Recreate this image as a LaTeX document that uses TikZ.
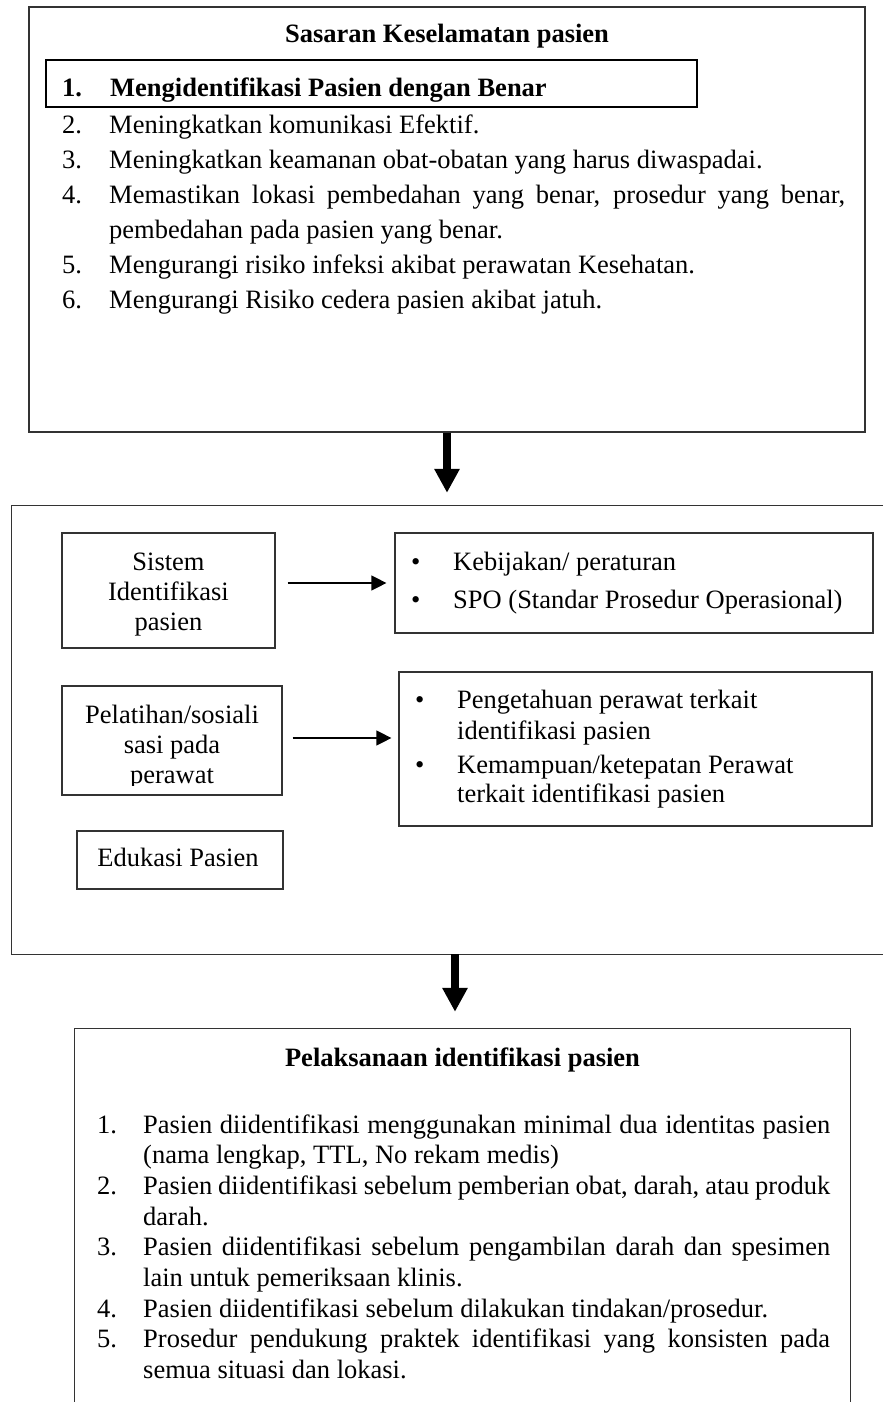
\documentclass[tikz,border=0pt]{standalone}
\usepackage{fontspec}
\setmainfont{Liberation Serif}
\usetikzlibrary{arrows.meta}
\definecolor{boxgray}{gray}{0.2}

\begin{document}
\begin{tikzpicture}[x=1pt, y=-1pt, inner sep=0pt,
  every node/.style={font=\fontsize{26.5}{30}\selectfont},
  boxframe/.style={draw=boxgray, line width=1.2pt},
  txt/.style={anchor=base west},
  mid/.style={anchor=base},
  bigarrow/.style={line width=8pt, -{Triangle[length=24pt, width=24pt]}},
  thinarrow/.style={line width=1.2pt, -{Triangle[length=15pt, width=15pt]}}]
  \useasboundingbox (0, 0) rectangle (883, 1402);

  % sasaran keselamatan
  \node[boxframe, minimum width=836pt, minimum height=425pt] (sasaran) at (447, 219.5) {};
  \node[draw, line width=2.3pt, minimum width=651pt, minimum height=47pt] (target) at (371.5, 83.5) {};
  \node[mid] (judul) at (447, 43) {\bfseries Sasaran Keselamatan pasien};
  \node[txt] (n1) at (62, 97) {\bfseries 1.};
  \node[txt] (s1) at (110, 97) {\bfseries Mengidentifikasi Pasien dengan Benar};
  \foreach \n/\y in {2/133, 3/168, 4/203, 5/273, 6/308}
    \node[txt] (n\n) at (62, \y) {\n.};
  \node[txt] (s2) at (109, 133) {Meningkatkan komunikasi Efektif.};
  \node[txt] (s3) at (109, 168) {Meningkatkan keamanan obat-obatan yang harus diwaspadai.};
  \node[txt] (s4) at (109, 203) {\hbox to 736pt{Memastikan lokasi pembedahan yang benar, prosedur yang benar,}};
  \node[txt] (s4b) at (109, 238) {pembedahan pada pasien yang benar.};
  \node[txt] (s5) at (109, 273) {Mengurangi risiko infeksi akibat perawatan Kesehatan.};
  \node[txt] (s6) at (109, 308) {Mengurangi Risiko cedera pasien akibat jatuh.};

  % upaya
  \node[minimum width=871pt, minimum height=448pt] (upaya) at (447.5, 730) {};
  \draw[boxgray, line width=1.2pt] (upaya.north east) -- (upaya.north west)
    -- (upaya.south west) -- (upaya.south east);
  \node[boxframe, minimum width=213pt, minimum height=115pt] (sistem) at (168.5, 590.5) {};
  \node[mid] at (168.5, 570) {Sistem};
  \node[mid] at (168.5, 600) {Identifikasi};
  \node[mid] at (168.5, 630) {pasien};
  \node[boxframe, minimum width=478pt, minimum height=100pt] (kebijakan) at (634, 583) {};
  \node[txt] at (411, 570) {•};
  \node[txt] at (453, 570) {Kebijakan/ peraturan};
  \node[txt] at (411, 608) {•};
  \node[txt] at (453, 608) {SPO (Standar Prosedur Operasional)};
  \node[boxframe, minimum width=220pt, minimum height=109pt] (pelatihan) at (172, 740.5) {};
  \begin{scope}
    \clip (62, 686) rectangle (282, 785);
    \node[mid] at (172, 723) {Pelatihan/sosiali};
    \node[mid] at (172, 753) {sasi pada};
    \node[mid] at (172, 783) {perawat};
  \end{scope}
  \node[boxframe, minimum width=473pt, minimum height=154pt] (pengetahuan) at (635.5, 749) {};
  \node[txt] at (415, 708) {•};
  \node[txt] at (457, 708) {Pengetahuan perawat terkait};
  \node[txt] at (457, 739) {identifikasi pasien};
  \node[txt] at (415, 773) {•};
  \node[txt] at (457, 773) {Kemampuan/ketepatan Perawat};
  \node[txt] at (457, 802) {terkait identifikasi pasien};
  \node[boxframe, minimum width=206pt, minimum height=58pt] (edukasi) at (180, 860) {};
  \node[mid] at (178, 866) {Edukasi Pasien};

  \draw[thinarrow, shorten <=12pt, shorten >=8pt] (sistem.east |- kebijakan.west) -- (kebijakan.west);
  \draw[thinarrow, shorten <=10pt, shorten >=7pt] ([yshift=2.5pt]pelatihan.east)
    -- ([yshift=2.5pt]pelatihan.east -| pengetahuan.west);

  % pelaksanaan
  \node[minimum width=775pt, minimum height=373pt] (pelaksanaan) at (462.5, 1215.5) {};
  \draw[boxgray, line width=1.2pt] (pelaksanaan.south west) -- (pelaksanaan.north west)
    -- (pelaksanaan.north east) -- (pelaksanaan.south east);
  \node[mid] (judul2) at (462.5, 1066) {\bfseries Pelaksanaan identifikasi pasien};
  \foreach \n/\y in {1/1133, 2/1194.4, 3/1255.8, 4/1317.2, 5/1347.9}
    \node[txt] (p\n) at (97, \y) {\n.};
  \node[txt] at (143, 1133) {\hbox to 687pt{Pasien diidentifikasi menggunakan minimal dua identitas pasien}};
  \node[txt] at (143, 1163.7) {(nama lengkap, TTL, No rekam medis)};
  \node[txt] at (143, 1194.4) {\hbox to 687pt{Pasien diidentifikasi sebelum pemberian obat, darah, atau produk}};
  \node[txt] at (143, 1225.1) {darah.};
  \node[txt] at (143, 1255.8) {\hbox to 687pt{Pasien diidentifikasi sebelum pengambilan darah dan spesimen}};
  \node[txt] at (143, 1286.5) {lain untuk pemeriksaan klinis.};
  \node[txt] at (143, 1317.2) {Pasien diidentifikasi sebelum dilakukan tindakan/prosedur.};
  \node[txt] at (143, 1347.9) {\hbox to 687pt{Prosedur pendukung praktek identifikasi yang konsisten pada}};
  \node[txt] at (143, 1378.6) {semua situasi dan lokasi.};

  % panah antar tahap
  \draw[bigarrow, shorten >=13pt] (sasaran.south) -- (sasaran.south |- upaya.north);
  \draw[bigarrow, shorten >=17pt] ([xshift=7.5pt]upaya.south) -- ([xshift=7.5pt]upaya.south |- pelaksanaan.north);
\end{tikzpicture}
\end{document}
